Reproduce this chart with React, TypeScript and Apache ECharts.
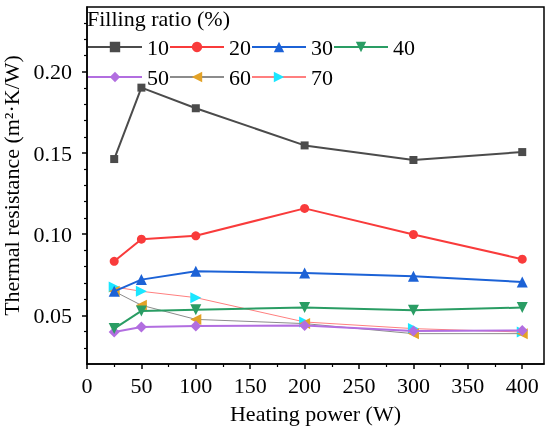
import React, { useEffect, useRef } from "react";
import * as echarts from "echarts";

const powers = [25, 50, 100, 200, 300, 400];
const seriesNames = ["10", "20", "30", "40", "50", "60", "70"];
const r10 = [0.1463, 0.1903, 0.1776, 0.1547, 0.1457, 0.1506];
const r20 = [0.0833, 0.0969, 0.099, 0.1159, 0.0998, 0.0846];
const r30 = [0.0648, 0.072, 0.0772, 0.0761, 0.0741, 0.0706];
const r40 = [0.0418, 0.0527, 0.0535, 0.0548, 0.0531, 0.0548];
const r50 = [0.0397, 0.0428, 0.0434, 0.0438, 0.0403, 0.0407];
const r60 = [0.0648, 0.0562, 0.0475, 0.0449, 0.0387, 0.0387];
const r70 = [0.0675, 0.0648, 0.0609, 0.0459, 0.0418, 0.0397];

const xMajor = [0, 50, 100, 150, 200, 250, 300, 350, 400];
const xMinor = [25, 75, 125, 175, 225, 275, 325, 375];
const yMajor = [0.05, 0.1, 0.15, 0.2];
const yMinor = [0.03, 0.04, 0.06, 0.07, 0.08, 0.09, 0.11, 0.12, 0.13, 0.14, 0.16, 0.17, 0.18, 0.19, 0.21, 0.22, 0.23];

const FONT = "Liberation Serif";

export default function App() {
  const ref = useRef<HTMLDivElement>(null);
  useEffect(() => {
    if (!ref.current) return;
    const chart = echarts.init(ref.current, undefined, { renderer: "svg" });
    const values = [r10, r20, r30, r40, r50, r60, r70];
    const styles = [
      { symbol: "rect", size: 8, rot: 0, color: "#4b4b4b", line: "#4b4b4b", w: 2 },
      { symbol: "circle", size: 9, rot: 0, color: "#f93b3b", line: "#f93b3b", w: 2 },
      { symbol: "triangle", size: 11, rot: 0, color: "#1c62d6", line: "#1c62d6", w: 2 },
      { symbol: "triangle", size: 11, rot: 180, color: "#2a9d64", line: "#2a9d64", w: 2 },
      { symbol: "diamond", size: 11, rot: 0, color: "#b26ee0", line: "#b26ee0", w: 2 },
      { symbol: "triangle", size: 11, rot: 90, color: "#e3a227", line: "#8c8c8c", w: 1 },
      { symbol: "triangle", size: 11, rot: -90, color: "#1ae6ff", line: "#ff7f7f", w: 1 },
    ];
    const series = seriesNames.map((name, i) => ({
      name,
      type: "line",
      xAxisIndex: 0,
      yAxisIndex: 0,
      data: powers.map((p, j) => [p, values[i][j]]),
      symbol: styles[i].symbol,
      symbolSize: styles[i].size,
      symbolRotate: styles[i].rot,
      itemStyle: { color: styles[i].color },
      lineStyle: { color: styles[i].line, width: styles[i].w },
      z: 10 - i,
    }));
    const legendBase = {
      orient: "horizontal",
      left: 82,
      itemWidth: 54,
      itemHeight: 13,
      itemGap: 0,
      textStyle: { fontFamily: FONT, fontSize: 22, color: "#000" },
    };
    chart.setOption({
      animation: false,
      title: {
        text: "Filling ratio (%)",
        left: 82,
        top: 2,
        textStyle: { fontFamily: FONT, fontSize: 22, color: "#000", fontWeight: "normal" },
      },
      legend: [
        { ...legendBase, top: 31, data: seriesNames.slice(0, 4) },
        { ...legendBase, top: 61, data: seriesNames.slice(4) },
      ],
      grid: {
        left: 87,
        right: 6,
        top: 7,
        bottom: 68,
        show: true,
        borderColor: "#000",
        borderWidth: 1.5,
        containLabel: false,
        outerBoundsMode: "none",
      },
      xAxis: [
        {
          type: "value",
          min: 0,
          max: 420,
          interval: 50,
          name: "Heating power (W)",
          nameLocation: "middle",
          nameGap: 38,
          nameTextStyle: { fontFamily: FONT, fontSize: 22, color: "#000" },
          axisLine: { show: true, lineStyle: { color: "#000", width: 1.5 } },
          axisTick: { show: true, length: 5, customValues: xMajor, lineStyle: { color: "#000", width: 1.5 } },
          axisLabel: { fontFamily: FONT, fontSize: 22, color: "#000", margin: 10, showMaxLabel: false },
          splitLine: { show: false },
        },
        {
          type: "value",
          min: 0,
          max: 420,
          position: "bottom",
          axisLine: { show: false },
          axisTick: { show: true, length: 3, customValues: xMinor, lineStyle: { color: "#000", width: 1.2 } },
          axisLabel: { show: false },
          splitLine: { show: false },
        },
      ],
      yAxis: [
        {
          type: "value",
          min: 0.02,
          max: 0.24,
          name: "Thermal resistance (m²·K/W)",
          nameLocation: "middle",
          nameGap: 50,
          nameTextStyle: { fontFamily: FONT, fontSize: 22, color: "#000" },
          axisLine: { show: true, lineStyle: { color: "#000", width: 1.5 } },
          axisTick: { show: true, length: 5, customValues: yMajor, lineStyle: { color: "#000", width: 1.5 } },
          axisLabel: {
            fontFamily: FONT,
            fontSize: 22,
            color: "#000",
            margin: 15,
            showMinLabel: false,
            showMaxLabel: false,
            formatter: (v: number) => v.toFixed(2),
          },
          splitLine: { show: false },
        },
        {
          type: "value",
          min: 0.02,
          max: 0.24,
          position: "left",
          axisLine: { show: false },
          axisTick: { show: true, length: 3, customValues: yMinor, lineStyle: { color: "#000", width: 1.2 } },
          axisLabel: { show: false },
          splitLine: { show: false },
        },
      ],
      series,
    });
    return () => chart.dispose();
  }, []);
  return (
    <div
      ref={ref}
      style={{ position: "fixed", left: 0, top: 0, width: 550, height: 432 }}
    />
  );
}
